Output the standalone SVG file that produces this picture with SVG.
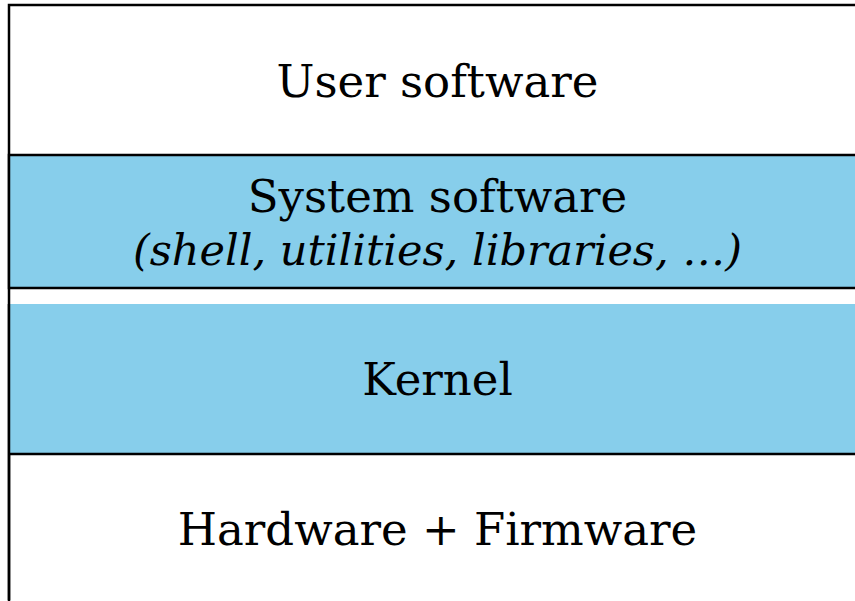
<svg xmlns="http://www.w3.org/2000/svg" width="855" height="601" viewBox="0 0 855 601">
<style>
.t{font-family:"DejaVu Serif","Liberation Serif",serif;font-size:45px;fill:#000;text-anchor:middle}
.i{font-style:italic;font-size:43px}
.blue{fill:#87CEEB}
.ln{stroke:#000;stroke-width:2.5;fill:none}
</style>
<rect width="855" height="601" fill="#fff"/>
<g id="user">
<path class="ln" d="M9,600 V5 H856"/>
<text class="t" x="437.5" y="97">User software</text>
</g>
<g id="system">
<rect class="blue" x="9" y="155" width="847" height="133"/>
<path class="ln" d="M856,155 H9 V288 H856"/>
<text class="t" x="437.5" y="212">System software</text>
<text class="t i" x="437.5" y="265">(shell, utilities, libraries, …)</text>
</g>
<g id="kernel">
<rect class="blue" x="9" y="304" width="847" height="150"/>
<path class="ln" d="M9,304 V601"/>
<path class="ln" d="M9,454 H856"/>
<text class="t" x="437.5" y="395">Kernel</text>
</g>
<g id="hardware">
<text class="t" x="437.5" y="545">Hardware + Firmware</text>
</g>
</svg>
